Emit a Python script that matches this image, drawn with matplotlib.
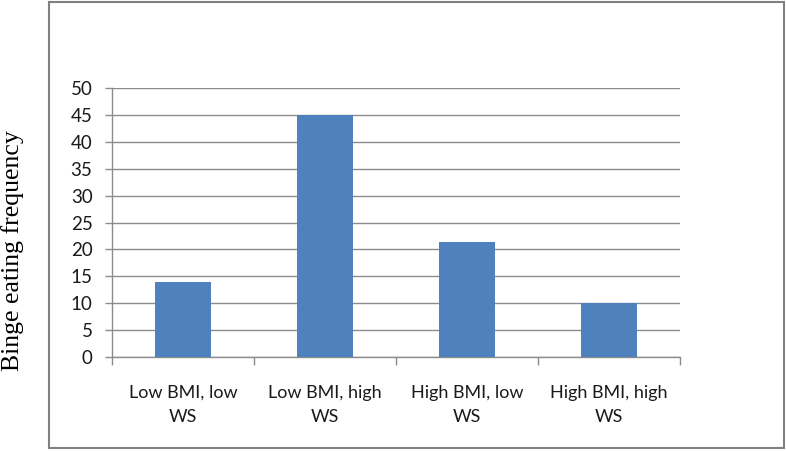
import matplotlib
matplotlib.use("Agg")
import matplotlib.pyplot as plt
from matplotlib.patches import Rectangle
import numpy as np

# data
categories = ["Low BMI, low\nWS", "Low BMI, high\nWS", "High BMI, low\nWS", "High BMI, high\nWS"]
values = [14, 45, 21.4, 10]
yticks = [0, 5, 10, 15, 20, 25, 30, 35, 40, 45, 50]

bar_color = "#4F81BD"
grid_color = "#8C8C8C"

fig = plt.figure(figsize=(7.86, 4.51), dpi=100)
fig.patch.set_facecolor("white")

# outer frame around the chart area
fig.patches.append(Rectangle((49 / 786, 3 / 451), 735 / 786, 446 / 451,
                             transform=fig.transFigure, fill=False,
                             edgecolor="#808080", linewidth=1.5))

ax = fig.add_axes([112 / 786, 94 / 451, 568 / 786, 269 / 451])

x = np.arange(len(categories))
ax.bar(x, values, width=0.39, color=bar_color, zorder=3)

ax.set_xlim(-0.5, len(categories) - 0.5)
ax.set_ylim(0, 50)
ax.set_yticks(yticks)
ax.yaxis.grid(True, color=grid_color, linewidth=1.0, zorder=0)

for s in ["top", "right"]:
    ax.spines[s].set_visible(False)
for s in ["left", "bottom"]:
    ax.spines[s].set_color(grid_color)
    ax.spines[s].set_linewidth(1.0)

ax.set_xticks(x)
ax.set_xticklabels(categories, fontfamily="Lato", fontsize=13, linespacing=1.6)
ax.set_xticks(np.arange(-0.5, len(categories)), minor=True)
ax.tick_params(axis="x", which="major", length=0, pad=20)
ax.tick_params(axis="x", which="minor", length=5.5, color=grid_color, width=1.0)
ax.tick_params(axis="y", length=5, color=grid_color, width=1.0, pad=9)
for lab in ax.get_yticklabels():
    lab.set_fontfamily("Lato")
    lab.set_fontsize(13.5)
    lab.set_color("#1a1a1a")
for lab in ax.get_xticklabels():
    lab.set_color("#1a1a1a")

fig.text(13 / 786, 1 - 251 / 451, "Binge eating frequency", rotation=90,
         ha="center", va="center", fontfamily="Liberation Serif", fontsize=18.5)

plt.savefig("out.png", dpi=100)
